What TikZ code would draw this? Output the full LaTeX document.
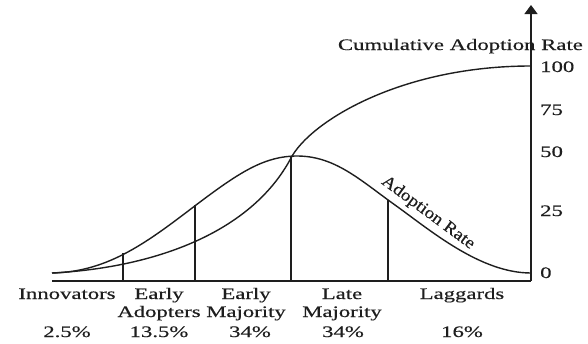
\documentclass[tikz,border=0pt]{standalone}
\usepackage{fontspec}
\setmainfont[FakeStretch=1.42,FakeBold=0.4]{Liberation Serif}
\newfontfamily\rotserif[FakeStretch=1.12,FakeBold=0.4]{Liberation Serif}
\usetikzlibrary{arrows.meta}
\definecolor{ink}{HTML}{1E1E1E}
\begin{document}
\begin{tikzpicture}[x=1pt,y=-1pt,
  curve/.style={draw=ink,line width=1.4pt},
  axisline/.style={draw=ink,line width=1.2pt},
  divider/.style={draw=ink,line width=1.1pt},
  lbl/.style={font=\fontsize{16}{16}\selectfont,text=ink,inner sep=0pt,anchor=base},
  tick/.style={font=\fontsize{16}{16}\selectfont,text=ink,inner sep=0pt,anchor=base west}]
\useasboundingbox (0,0) rectangle (588,343);
% axes
\coordinate (o) at (52,281);
\coordinate (ax) at (531,281);
\coordinate (top) at (531,5);
\draw[axisline] (o) -- (ax);
\draw[axisline,-{Triangle[width=13pt,length=9pt]}] (ax) -- (top);
% bell curve (adoption rate)
\coordinate (b0) at (52,273);
\coordinate (b1) at (200,202);
\coordinate (bp) at (297,156);
\coordinate (b3) at (395,205);
\coordinate (b4) at (531,273);
\draw[curve] (b0) .. controls (110,272) and (150,240) .. (b1)
  .. controls (240,172) and (265,156) .. (bp)
  .. controls (335,156) and (360,180) .. (b3)
  .. controls (430,230) and (480,273) .. (b4);
% cumulative curve
\coordinate (c1) at (291,158);
\coordinate (c2) at (531,66);
\draw[curve] (b0) .. controls (150,268) and (250,235) .. (c1)
  .. controls (310,122) and (400,66) .. (c2);
% dividers
\coordinate (d1b) at (123,281); \coordinate (d1t) at (123,253);
\coordinate (d2b) at (195,281); \coordinate (d2t) at (195,205);
\coordinate (d3b) at (291,281); \coordinate (d3t) at (291,157);
\coordinate (d4b) at (388,281); \coordinate (d4t) at (388,200);
\draw[divider] (d1b) -- (d1t);
\draw[divider] (d2b) -- (d2t);
\draw[divider] (d3b) -- (d3t);
\draw[divider] (d4b) -- (d4t);
% axis labels
\node[tick] (t100) at (540,72) {100};
\node[tick] (t75) at (540,115) {75};
\node[tick] (t50) at (540,157) {50};
\node[tick] (t25) at (540,216) {25};
\node[tick] (t0) at (540,278) {0};
\node[lbl,anchor=base east] (cum) at (583,50) {Cumulative Adoption Rate};
\node[lbl,anchor=center,rotate=-36.5,font=\fontsize{17}{17}\rotserif] (ar) at (428,213) {Adoption Rate};
% category labels
\node[lbl] (inn) at (67,299) {Innovators};
\node[lbl] (inp) at (67,337) {2.5\%};
\node[lbl] (ea1) at (159,299) {Early};
\node[lbl] (ea2) at (159,317) {Adopters};
\node[lbl] (eap) at (159,337) {13.5\%};
\node[lbl] (em1) at (246,299) {Early};
\node[lbl] (em2) at (246,317) {Majority};
\node[lbl] (emp) at (250,337) {34\%};
\node[lbl] (lm1) at (342,299) {Late};
\node[lbl] (lm2) at (342,317) {Majority};
\node[lbl] (lmp) at (343,337) {34\%};
\node[lbl] (lag) at (462,299) {Laggards};
\node[lbl] (lagp) at (462,337) {16\%};
\end{tikzpicture}
\end{document}
